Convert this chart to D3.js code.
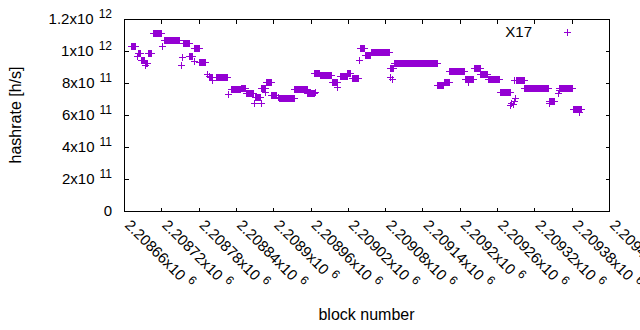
<!DOCTYPE html>
<html>
<head>
<meta charset="utf-8">
<script src="https://cdn.jsdelivr.net/npm/d3@7"></script>
<style>
body { margin: 0; background: #fff; }
text { font-family: "Liberation Sans", Arial, sans-serif; fill: #000; }
</style>
</head>
<body>
<div id="chart"></div>
<script>
// plateaus: every block between start and end has the same hashrate
var runStart = [2208671, 2208682, 2208687, 2208694, 2208699, 2208706, 2208724, 2208755, 2208765, 2208773,
    2208781, 2208799, 2208808, 2208832, 2208848, 2208856, 2208871, 2208881, 2208888, 2208897,
    2208909, 2208934, 2208955, 2208966, 2208975, 2208994, 2209007, 2209019, 2209026, 2209039,
    2209047, 2209057, 2209090, 2209094, 2209164, 2209174, 2209183, 2209208, 2209223, 2209233,
    2209245, 2209265, 2209290, 2209304, 2209343, 2209360, 2209382];
var runEnd = [2208678, 2208686, 2208692, 2208697, 2208704, 2208720, 2208748, 2208764, 2208770, 2208780,
    2208790, 2208801, 2208826, 2208847, 2208854, 2208867, 2208879, 2208886, 2208896, 2208905,
    2208933, 2208954, 2208965, 2208974, 2208993, 2209003, 2209018, 2209023, 2209036, 2209046,
    2209056, 2209086, 2209093, 2209163, 2209173, 2209182, 2209207, 2209222, 2209232, 2209244,
    2209263, 2209280, 2209303, 2209342, 2209352, 2209381, 2209395];
var runRate = [1.029e12, 0.986e12, 0.941e12, 0.922e12, 0.989e12, 1.111e12, 1.067e12, 1.048e12, 0.969e12, 1.017e12,
    0.931e12, 0.838e12, 0.836e12, 0.761e12, 0.769e12, 0.736e12, 0.714e12, 0.767e12, 0.806e12, 0.725e12,
    0.705e12, 0.761e12, 0.736e12, 0.861e12, 0.853e12, 0.808e12, 0.846e12, 0.861e12, 0.829e12, 1.017e12,
    0.975e12, 0.992e12, 0.892e12, 0.923e12, 0.789e12, 0.804e12, 0.873e12, 0.827e12, 0.892e12, 0.856e12,
    0.827e12, 0.744e12, 0.819e12, 0.767e12, 0.689e12, 0.771e12, 0.636e12];

// scattered single blocks
var pointBlock = [2208681, 2208693, 2208721, 2208751, 2208754, 2208772, 2208793, 2208797, 2208802, 2208828,
    2208869, 2208880, 2208887, 2208907, 2208967, 2209002, 2209038, 2209087, 2209088, 2209091,
    2209166, 2209214, 2209281, 2209283, 2209285, 2209287, 2209288, 2209289, 2209344, 2209358,
    2209359, 2209391];
var pointRate = [0.966e12, 0.913e12, 1.034e12, 0.913e12, 0.961e12, 0.939e12, 0.854e12, 0.846e12, 0.819e12, 0.731e12,
    0.677e12, 0.677e12, 0.746e12, 0.714e12, 0.746e12, 0.773e12, 0.944e12, 0.892e12, 0.839e12, 0.823e12,
    0.788e12, 0.804e12, 0.663e12, 0.673e12, 0.667e12, 0.819e12, 0.688e12, 0.704e12, 0.675e12, 0.739e12,
    0.756e12, 0.617e12];

var xTicks = [2208660, 2208720, 2208780, 2208840, 2208900, 2208960, 2209020,
    2209080, 2209140, 2209200, 2209260, 2209320, 2209380, 2209440];
var yTicks = [0, 2e11, 4e11, 6e11, 8e11, 1e12, 1.2e12];
var seriesName = 'X17';
var xTitle = 'block number';
var yTitle = 'hashrate [h/s]';

function Plot(data){
    this.data = data;
    this.sizes = {width: 640, height: 330};
    this.box = {left: 124, right: 609, top: 19, bottom: 211};
    this.color = '#9400d3';
}

Plot.prototype.make_svg = function(){
    this.svg = d3.select('#chart').append('svg')
        .attr('width', this.sizes.width)
        .attr('height', this.sizes.height)
        .style('display', 'block')
        .style('background', '#fff');
};

Plot.prototype.make_scales = function(){
    this.x = d3.scaleLinear()
        .domain([xTicks[0], xTicks[xTicks.length - 1]])
        .range([this.box.left, this.box.right]);
    this.y = d3.scaleLinear()
        .domain([yTicks[0], yTicks[yTicks.length - 1]])
        .range([this.box.bottom, this.box.top]);
};

// "2.20866x10^6" style label, exponent as a raised tspan
function powerLabel(sel, v){
    if (v === 0){
        sel.text('0');
        return;
    }
    var e = Math.floor(Math.log10(v));
    var m = +(v / Math.pow(10, e)).toFixed(6);
    sel.text(m + 'x10');
    sel.append('tspan')
        .attr('dx', 5)
        .attr('dy', -6)
        .style('font-size', '12px')
        .text(e);
}

Plot.prototype.draw_axes = function(){
    var b = this.box, x = this.x, y = this.y, svg = this.svg;
    var tick = 4;

    var g = svg.append('g').attr('class', 'axes')
        .attr('shape-rendering', 'crispEdges');

    g.append('g').attr('transform', 'translate(0,' + (b.bottom + 0.5) + ')')
        .call(d3.axisBottom(x).tickValues(xTicks).tickSize(-tick).tickFormat(''));
    g.append('g').attr('transform', 'translate(0,' + (b.top + 0.5) + ')')
        .call(d3.axisTop(x).tickValues(xTicks).tickSize(-tick).tickFormat(''));
    g.append('g').attr('transform', 'translate(' + (b.left + 0.5) + ',0)')
        .call(d3.axisLeft(y).tickValues(yTicks).tickSize(-tick).tickFormat(''));
    g.append('g').attr('transform', 'translate(' + (b.right + 0.5) + ',0)')
        .call(d3.axisRight(y).tickValues(yTicks).tickSize(-tick).tickFormat(''));
    g.selectAll('.domain').remove();
    g.selectAll('.tick line').attr('stroke', '#000');

    g.append('rect')
        .attr('x', b.left + 0.5)
        .attr('y', b.top + 0.5)
        .attr('width', b.right - b.left)
        .attr('height', b.bottom - b.top)
        .attr('fill', 'none')
        .attr('stroke', '#000');

    // y tick labels
    svg.append('g').selectAll('text')
        .data(yTicks)
        .enter()
        .append('text')
        .attr('x', b.left - 12)
        .attr('y', function(d){ return y(d) + 5; })
        .attr('text-anchor', 'end')
        .style('font-size', '15px')
        .each(function(d){ powerLabel(d3.select(this), d); });

    // x tick labels, rotated
    svg.append('g').selectAll('text')
        .data(xTicks)
        .enter()
        .append('text')
        .attr('transform', function(d){ return 'translate(' + x(d) + ',' + (b.bottom + 15) + ') rotate(45)'; })
        .attr('text-anchor', 'start')
        .style('font-size', '15px')
        .each(function(d){ powerLabel(d3.select(this), d); });

    svg.append('text')
        .attr('transform', 'translate(21,' + ((b.top + b.bottom) / 2) + ') rotate(-90)')
        .attr('text-anchor', 'middle')
        .style('font-size', '16px')
        .text(yTitle);

    svg.append('text')
        .attr('x', (b.left + b.right) / 2)
        .attr('y', 320)
        .attr('text-anchor', 'middle')
        .style('font-size', '16px')
        .text(xTitle);
};

var plus = 'M-3.5,0H3.5M0,-3.5V3.5';

Plot.prototype.draw_points = function(){
    var x = this.x, y = this.y;
    this.svg.append('g').attr('class', 'points')
        .attr('shape-rendering', 'crispEdges')
        .selectAll('path')
        .data(this.data)
        .enter()
        .append('path')
        .attr('d', plus)
        .attr('transform', function(d){
            return 'translate(' + (Math.round(x(d.block)) + 0.5) + ',' + (Math.round(y(d.rate)) + 0.5) + ')';
        })
        .attr('fill', 'none')
        .attr('stroke', this.color)
        .attr('stroke-width', 1);
};

Plot.prototype.draw_legend = function(){
    var g = this.svg.append('g').attr('class', 'legend');
    g.append('text')
        .attr('x', 532)
        .attr('y', 37)
        .attr('text-anchor', 'end')
        .style('font-size', '15px')
        .text(seriesName);
    g.append('path')
        .attr('d', plus)
        .attr('transform', 'translate(567.5,32.5)')
        .attr('fill', 'none')
        .attr('stroke', this.color)
        .attr('shape-rendering', 'crispEdges');
};

Plot.prototype.runit = function(){
    this.make_svg();
    this.make_scales();
    this.draw_axes();
    this.draw_points();
    this.draw_legend();
};

// MAIN()
function main(){
    var all = [];
    // expand the plateaus to one point per block
    for (var i = 0; i < runStart.length; i++){
        for (var blk = runStart[i]; blk <= runEnd[i]; blk++){
            all.push({block: blk, rate: runRate[i]});
        }
    }
    for (var j = 0; j < pointBlock.length; j++){
        all.push({block: pointBlock[j], rate: pointRate[j]});
    }
    var plot = new Plot(all);
    plot.runit();
}
main();
</script>
</body>
</html>
